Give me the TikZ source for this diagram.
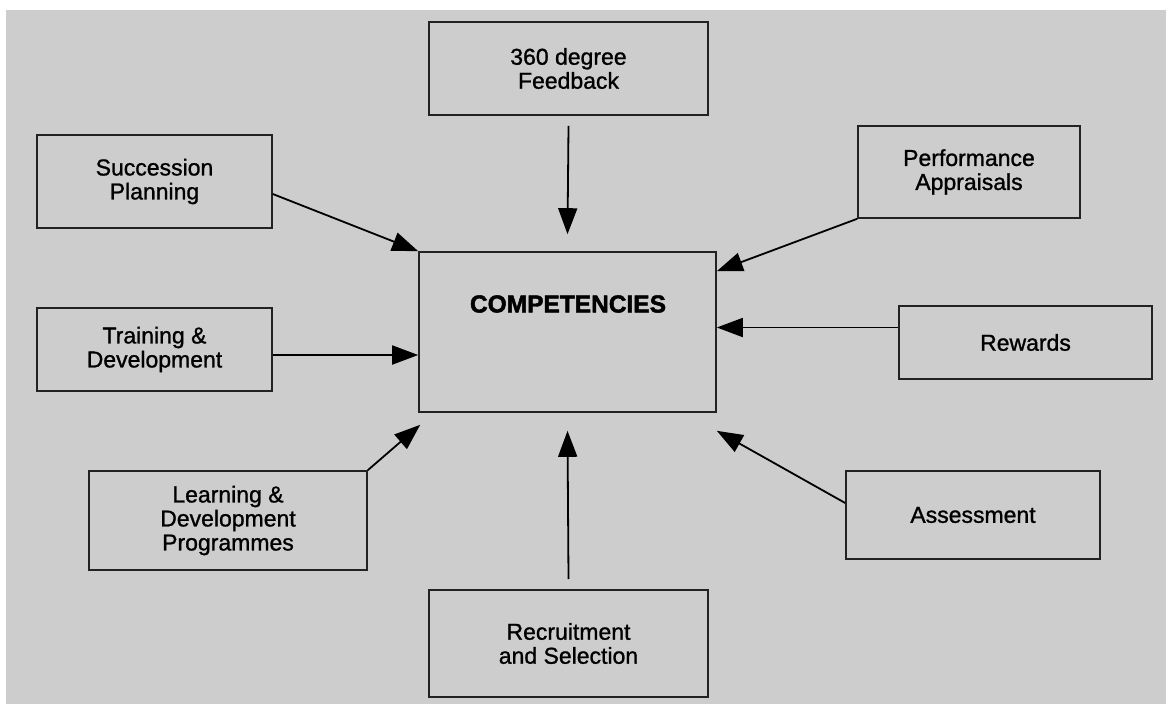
\documentclass[tikz,border=0pt]{standalone}
\usepackage{fontspec}
\usetikzlibrary{arrows.meta}
\newfontface\labelfont{Liberation Sans}[FakeBold=1.1]
\newfontface\titlefont{Liberation Sans Bold}[FakeBold=2]
\definecolor{bggray}{RGB}{205,205,205}
\definecolor{edge}{RGB}{34,34,34}
\tikzset{
  item/.style={draw=edge, line width=1.6pt, align=center, inner sep=0pt,
    font=\labelfont\fontsize{23}{24}\selectfont},
  feed/.style={line width=1.8pt, draw=black, -{Triangle[length=26pt,width=19pt]}},
}
\begin{document}
\begin{tikzpicture}[x=1pt,y=-1pt]
\useasboundingbox (0,0) rectangle (1166,704);
\fill[white] (0,0) rectangle (1166,704);
\fill[bggray] (6,10) rectangle (1166,704);

% central box
\node[item, minimum width=297pt, minimum height=160pt] (comp) at (567.5,332) {};
\node[font=\titlefont\fontsize{24.5}{26}\selectfont, inner sep=0pt] (comptext) at (568,304) {COMPETENCIES};

% surrounding boxes
\node[item, minimum width=279pt, minimum height=93pt]  (fb360)   at (568.5,68.5)  {360 degree\\Feedback};
\node[item, minimum width=235pt, minimum height=93pt]  (succ)    at (154.5,181.5) {Succession\\Planning};
\node[item, minimum width=222pt, minimum height=92pt]  (perf)    at (969,172)     {Performance\\Appraisals};
\node[item, minimum width=235pt, minimum height=83pt]  (train)   at (154.5,349.5) {Training \&\\Development};
\node[item, minimum width=253pt, minimum height=73pt]  (reward)  at (1025.5,342.5) {Rewards};
\node[item, minimum width=278pt, minimum height=99pt]  (learn)   at (228,520.5)   {Learning \&\\Development\\Programmes};
\node[item, minimum width=254pt, minimum height=88pt]  (assess)  at (973,515)     {Assessment};
\node[item, minimum width=279pt, minimum height=107pt] (recruit) at (568.5,643.5) {Recruitment\\and Selection};

% arrows into the centre
\draw[feed] ([yshift=-10pt]fb360.south) -- ([yshift=17pt]comp.north);
\draw[feed] ([yshift=-12.5pt]succ.east) -- (comp.north west);
\draw[feed] (perf.south west) -- ([yshift=-20pt]comp.north east);
\draw[feed] ([yshift=-5.5pt]train.east) -- ([yshift=-23pt]comp.west);
\draw[feed] ([yshift=15pt]reward.west) -- ([yshift=4.5pt]comp.east);
\draw[feed] (learn.north east) -- ([shift={(2pt,-12pt)}]comp.south west);
\draw[feed] ([yshift=12pt]assess.west) -- ([yshift=-18pt]comp.south east);
\draw[feed] ([yshift=10pt]recruit.north) -- ([yshift=-18pt]comp.south);
\end{tikzpicture}
\end{document}
